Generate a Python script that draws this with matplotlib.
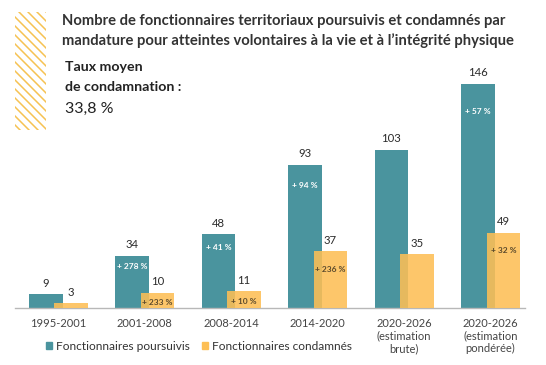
import numpy as np
import matplotlib
matplotlib.use('Agg')
from matplotlib import pyplot as plt
from matplotlib.patches import Patch

plt.rcParams['font.family'] = ['Lato', 'DejaVu Sans']

# données
periodes = ['1995-2001', '2001-2008', '2008-2014', '2014-2020',
            '2020-2026\n(estimation\nbrute)', '2020-2026\n(estimation\npondérée)']
poursuivis = [9, 34, 48, 93, 103, 146]
condamnes = [3, 10, 11, 37, 35, 49]
evol_poursuivis = ['', '+ 278 %', '+ 41 %', '+ 94 %', '', '+ 57 %']
evol_condamnes = ['', '+ 233 %', '+ 10 %', '+ 236 %', '', '+ 32 %']

teal = '#4a949e'
orange = '#fdbf55'
texte = '#333333'

fig = plt.figure(figsize=(5.46, 3.65), dpi=100)
fig.patch.set_facecolor('white')

ax = fig.add_axes([15/546, 57/365, 510/546, 246/365])
ax.patch.set_visible(False)

# hachures décoratives en haut à gauche
hx = fig.add_axes([15/546, 1 - 130/365, 31/546, 118/365])
for c in np.arange(-40, 125, 9):
    hx.plot([0, 31], [c, c + 31], color='#f6c252', lw=1.1)
hx.set_xlim(0, 31)
hx.set_ylim(118, 0)
hx.axis('off')

x = np.arange(len(periodes))
w = 0.39
ax.bar(x - 0.145, poursuivis, w, color=teal, zorder=2)
ax.bar(x + 0.15, condamnes, w, color=orange, alpha=0.88, zorder=3)

ax.set_xlim(-0.5, 5.4)
ax.set_ylim(0, 160)
for s in ['top', 'right', 'left']:
    ax.spines[s].set_visible(False)
ax.spines['bottom'].set_color('#b8b8b8')
ax.spines['bottom'].set_linewidth(1)
ax.set_yticks([])
ax.set_xticks(x)
ax.set_xticklabels(periodes, fontsize=8, color='#444444', linespacing=1.2)
ax.tick_params(axis='x', length=0, pad=7)

px = 246 / 160  # pixels par unité
for i in range(len(x)):
    ax.annotate(str(poursuivis[i]), (x[i] - 0.145, poursuivis[i]), xytext=(0, 4),
                textcoords='offset points', ha='center', va='bottom',
                fontsize=8.2, color='#2b2b2b')
    ax.annotate(str(condamnes[i]), (x[i] + 0.15, condamnes[i]), xytext=(0, 4),
                textcoords='offset points', ha='center', va='bottom',
                fontsize=8.2, color='#2b2b2b')
    if evol_poursuivis[i]:
        dy = -(6 + 0.1 * poursuivis[i] * px) * 0.72
        ax.annotate(evol_poursuivis[i], (x[i] - 0.145, poursuivis[i]), xytext=(0, dy),
                    textcoords='offset points', ha='center', va='center',
                    fontsize=6, fontweight='bold', color='white', zorder=5)
    if evol_condamnes[i]:
        dy = -min(condamnes[i] * px * 0.62, 18) * 0.72
        ax.annotate(evol_condamnes[i], (x[i] + 0.15, condamnes[i]), xytext=(0, dy),
                    textcoords='offset points', ha='center', va='center',
                    fontsize=6, fontweight='bold', color='#5b4a2c', zorder=5)

fig.text(62/546, 1 - 31/365,
         'Nombre de fonctionnaires territoriaux poursuivis et condamnés par\n'
         'mandature pour atteintes volontaires à la vie et à l’intégrité physique',
         fontsize=10.6, fontweight='bold', color=texte, va='center', linespacing=1.4)
fig.text(65/546, 1 - 67/365, 'Taux moyen', fontsize=10.2, fontweight='bold',
         color='#222222', va='center')
fig.text(65/546, 1 - 87/365, 'de condamnation :', fontsize=10.2, fontweight='bold',
         color='#222222', va='center')
fig.text(65/546, 1 - 109/365, '33,8 %', fontsize=11.5, color='#222222', va='center')

handles = [Patch(color=teal), Patch(color=orange)]
fig.legend(handles, ['Fonctionnaires poursuivis', 'Fonctionnaires condamnés'],
           loc='center left', bbox_to_anchor=(35/546, 1 - 346/365), ncol=2,
           frameon=False, fontsize=8.6, handlelength=0.55, handleheight=0.55,
           handletextpad=0.3, columnspacing=1.0, labelcolor=texte)

plt.savefig('out.png', dpi=100)
